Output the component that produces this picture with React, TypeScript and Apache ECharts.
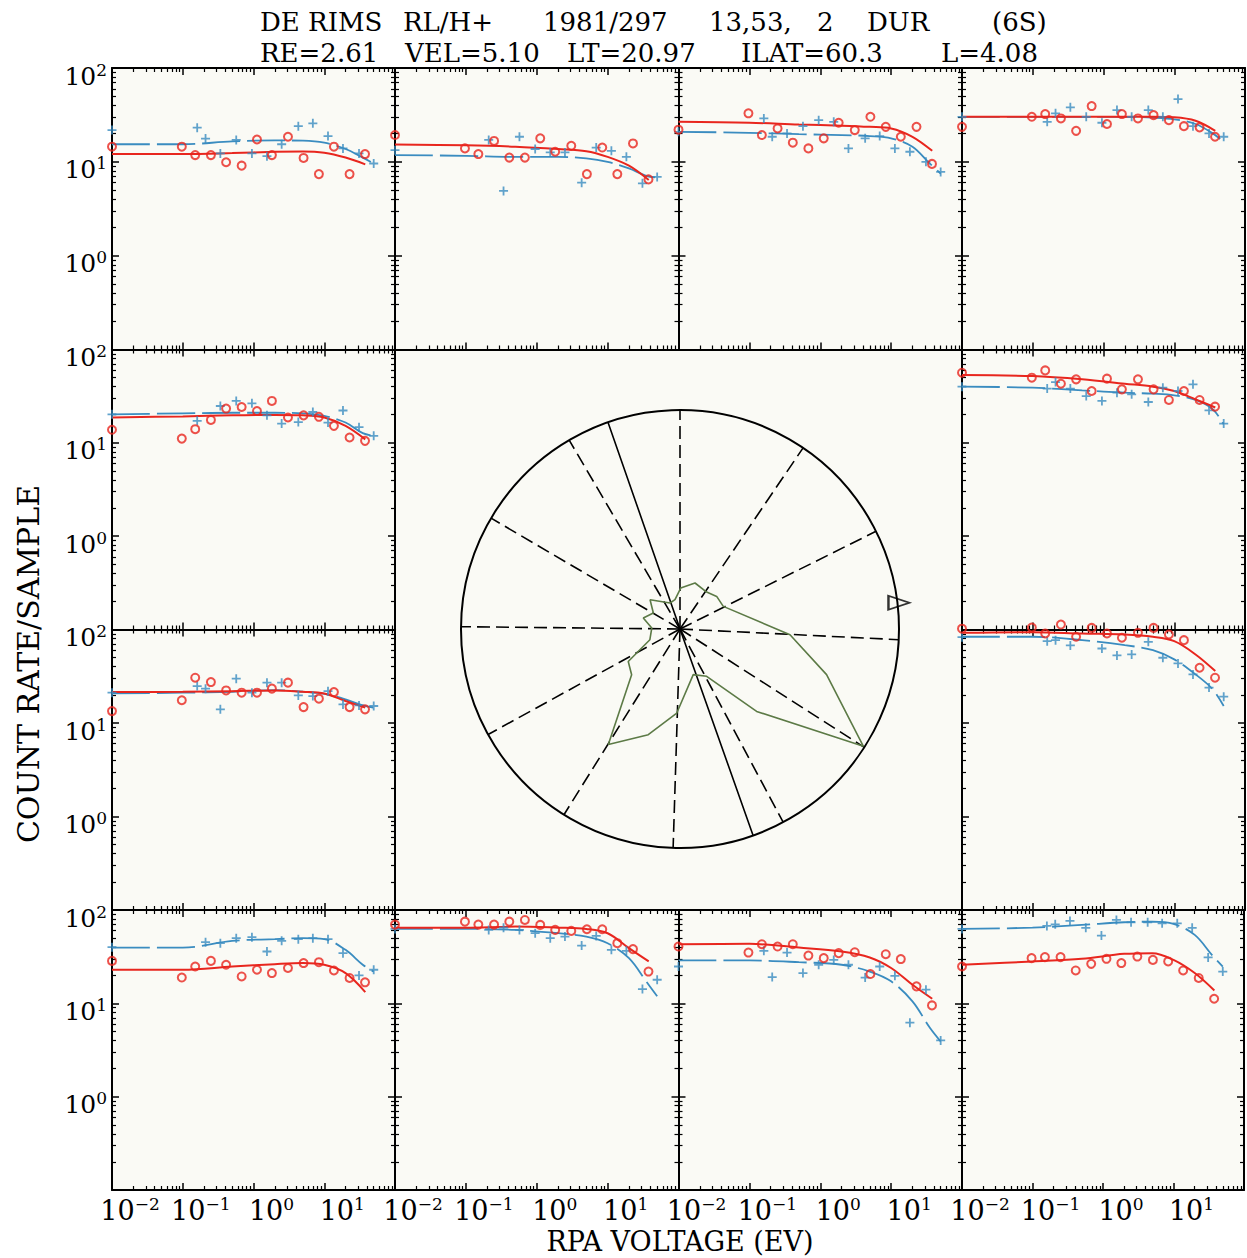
import React, { useEffect, useRef } from 'react';
import * as echarts from 'echarts';

// ---------------- data ----------------
// RPA voltage steps (eV) of the two sensors
const circleV = [0.01, 0.097, 0.15, 0.25, 0.41, 0.68, 1.12, 1.82, 3.07, 5.1, 8.4, 13.7, 22.8, 37.7];
const crossV = [0.01, 0.16, 0.21, 0.34, 0.57, 0.95, 1.55, 2.5, 4.3, 6.9, 11.3, 18.4, 31, 50];
// abscissae of the fitted curves
const fitRedV = [0.01, 0.1, 0.5, 2, 5, 10, 20, 38];
const fitBlueV = [0.01, 0.1, 0.5, 2, 5, 10, 20, 35, 50];

const p1Circles = [14.5, 14.5, 11.8, 11.8, 9.9, 9.1, 17.3, 11.8, 18.5, 11.0, 7.4, 14.5, 7.4, 12.1];
const p1Crosses = [21.8, 23.1, 17.7, 12.3, 17.1, 12.3, 11.5, 15.4, 24.0, 25.7, 18.8, 13.9, 12.3, 9.6];
const p1Red = [12.1, 12.1, 12.4, 12.8, 12.9, 12.5, 11.1, 9.4];
const p1Blue = [15.4, 15.4, 16.5, 16.9, 16.8, 16.0, 13.7, 11.1, 9.6];

const p2Circles = [19.3, 13.9, 12.1, 16.7, 11.1, 11.1, 17.8, 12.8, 14.8, 7.4, 14.2, 7.4, 15.7, 6.5];
const p2Crosses = [13.3, null, 17.1, 4.9, 18.5, 13.7, 12.6, 12.6, 6.0, 14.2, 13.1, 11.3, 5.9, 6.9];
const p2Red = [15.3, 15.0, 14.5, 13.7, 13.0, 11.3, 9.1, 6.4];
const p2Blue = [11.8, 11.6, 11.3, 11.3, 10.9, 10.0, 8.5, 7.1, 6.8];

const p3Circles = [22, 32.9, 19.3, 22.7, 16.0, 13.9, 17.8, 26.1, 21.8, 30.2, 23.6, 18.5, 23.6, 9.5];
const p3Crosses = [20.9, 29.0, 18.5, 20.1, 24.0, 27.8, 26.7, 13.9, 17.8, 18.8, 13.9, 12.8, 10.0, 7.8];
const p3Red = [26.7, 26.1, 25.0, 24.3, 23.6, 22.7, 18.5, 13.1];
const p3Blue = [20.9, 20.4, 19.7, 19.3, 18.8, 17.8, 14.5, 9.6, 7.5];

const p4Circles = [23.6, 30.2, 32.3, 29.0, 21.4, 39.3, 25.3, 32.3, 29.0, 31.5, 27.8, 24.0, 23.3, 18.5];
const p4Crosses = [30.2, 26.7, 32.9, 38.1, 30.2, 26.1, 35.6, 30.2, 35.6, 30.2, 46.7, 24.0, 20.1, 18.5];
const p4Red = [30.2, 30.2, 30.2, 30.2, 30.2, 29.8, 27.4, 21.4];
const p4Blue = [30.2, 30.2, 30.2, 30.2, 29.6, 28.4, 25.3, 20.1, 16.3];

const p5Circles = [13.8, 11.1, 14.0, 17.6, 23.3, 24.2, 21.9, 28.1, 18.7, 19.7, 19.0, 15.2, 11.4, 10.5];
const p5Crosses = [20.2, 17.2, null, 24.8, 28.1, 26.5, 19.7, 16.1, 16.7, 21.4, 16.5, 22.2, 14.7, 11.9];
const p5Red = [18.7, 19.2, 19.7, 19.9, 19.7, 18.7, 15.2, 10.9];
const p5Blue = [20.2, 20.7, 21.0, 21.0, 20.7, 19.4, 16.5, 12.7, 11.9];

const p6Circles = [56.4, 49.9, 59.7, 43.0, 47.9, 35.9, 48.7, 37.4, 47.9, 37.4, 28.8, 35.9, 28.8, 24.4];
const p6Crosses = [40.0, 38.1, 44.8, 38.1, 31.7, 28.1, 34.5, 33.1, 27.4, 39.0, 35.9, 42.3, 22.3, 16.1];
const p6Red = [53.2, 51.9, 47.9, 43.0, 40.0, 35.9, 29.2, 23.9];
const p6Blue = [40.0, 39.0, 36.5, 34.5, 33.6, 32.3, 28.8, 22.9, 15.8];

const p7Circles = [13.4, 17.5, 30.5, 27.4, 22.3, 21.1, 21.1, 23.3, 27.0, 14.8, 18.2, 21.4, 14.8, 14.0];
const p7Crosses = [21.1, 24.8, 23.3, 14.0, 29.8, 21.1, 27.0, 27.0, 19.7, 19.4, 21.9, 15.8, 15.4, 15.2];
const p7Red = [21.4, 21.6, 21.9, 22.3, 21.6, 20.7, 17.2, 14.6];
const p7Blue = [20.7, 21.1, 21.6, 22.5, 21.6, 20.5, 17.9, 15.4, 14.6];

const p8Circles = [102, 105, 90.6, 113, 83.6, 104, 90.6, 81.6, 92.2, 104, 88.4, 76.9, 39.0, 30.5];
const p8Crosses = [82.8, 75.0, 76.9, 67.5, null, 62.6, 52.8, 54.1, 73.9, 49.9, 43.4, 33.1, 23.9, 19.1];
const p8Red = [92.2, 93.7, 90.6, 88.4, 83.6, 75.0, 54.1, 35.9];
const p8Blue = [83.6, 83.6, 76.9, 68.0, 60.1, 47.9, 33.1, 22.9, 15.2];

const p9Circles = [28.5, 18.9, 24.8, 28.5, 25.9, 19.4, 22.9, 21.1, 23.9, 27.0, 27.6, 22.5, 18.7, 16.8];
const p9Crosses = [40, null, 45.2, 44.1, 49.9, 51.1, 35.9, 46.7, 48.7, 49.9, 48.7, 34.5, 19.9, 22.9];
const p9Red = [22.9, 22.9, 24.8, 26.3, 27.0, 25.9, 21.1, 13.2];
const p9Blue = [39.6, 39.6, 46.7, 48.7, 49.9, 48.7, 37.4, 25.9, 21.9];

const p10Circles = [69.8, 75.0, 69.8, 69.8, 75.0, 78.2, 69.2, 61.2, 59.7, 62.2, 62.2, 44.1, 38.1, 21.9];
const p10Crosses = [62.7, null, 61.2, 64.7, 61.2, 56.4, 49.9, 51.9, 41.6, 52.8, 37.4, 36.5, 14.2, 17.9];
const p10Red = [64.4, 64.7, 66.4, 64.7, 62.7, 56.4, 39.0, 28.1];
const p10Blue = [62.7, 62.7, 61.2, 56.4, 51.9, 44.1, 30.5, 17.2, 11.9];

const p11Circles = [40.6, 35.0, 43.0, 40.6, 43.0, 32.5, 30.5, 34.5, 35.3, 20.6, 33.6, 29.8, 15.2, 9.5];
const p11Crosses = [24.8, 36.5, 19.1, 35.0, 21.1, 25.9, 29.2, 25.9, 18.9, 24.8, 19.7, 6.2, 14.0, 4.0];
const p11Red = [43.0, 43.4, 39.6, 35.9, 31.0, 23.9, 15.8, 11.2];
const p11Blue = [28.8, 28.8, 27.6, 25.9, 21.9, 17.2, 10.5, 5.5, 3.9];

const p12Circles = [24.8, 30.5, 31.3, 31.3, 22.5, 26.5, 30.0, 27.0, 31.7, 29.2, 28.1, 22.5, 18.7, 11.2];
const p12Crosses = [62.7, 67.5, 70.3, 76.3, 64.4, 53.2, 78.2, 73.9, 73.9, 72.0, 72.0, 64.4, 31.0, 21.9];
const p12Red = [25.9, 28.1, 30.0, 33.9, 34.5, 29.2, 21.1, 13.7];
const p12Blue = [62.7, 64.7, 69.2, 73.9, 75.0, 70.9, 54.1, 33.1, 24.8];

// polar (look-direction) diagram: angles in degrees counter-clockwise from east, radius fraction
const dashedSpokeAngles = [26.5, 55.8, 90, 120.4, 149.6, 179.4, 208.8, 238, 268.2, 298.1, 327.3, 357.2];
const solidSpokeAngles = [109.2, 289.5];
const greenAngles = [27.6, 41.6, 54.2, 71.9, 89, 99.7, 111, 135.7, 149, 163.3, 178, 199.6, 212.1, 223.4, 238.2, 253.3, 267.8, 286.2, 299.4, 312.9, 327.4, 342.7, 357];
const greenRadii = [0.223, 0.224, 0.208, 0.221, 0.187, 0.136, 0.127, 0.191, 0.142, 0.175, 0.129, 0.146, 0.279, 0.304, 0.621, 0.504, 0.384, 0.217, 0.248, 0.514, 0.994, 0.701, 0.503];
const markerAngle = 6.85;
const markerRadius = 1.007;

// text
const titleWords1 = ['DE RIMS', 'RL/H+', '1981/297', '13,53,', '2', 'DUR', '(6S)'];
const titleWords2 = ['RE=2.61', 'VEL=5.10', 'LT=20.97', 'ILAT=60.3', 'L=4.08'];
const yTitle = 'COUNT RATE/SAMPLE';
const xTitle = 'RPA VOLTAGE (EV)';

// ---------------- layout / style ----------------
const RED = '#e8261e';
const BLUE = '#3a8cc0';
const GREEN = '#5c7a46';
const PANEL_BG = '#fafaf5';
const SERIF = '"DejaVu Serif", "Liberation Serif", serif';
const colX = [112, 395, 678.5, 962, 1245];
const rowY = [68, 349.5, 629.5, 910, 1190];
const titleX1 = [260, 403, 543, 709, 817, 867, 992];
const titleX2 = [260, 405, 567, 741, 941];
const CROSS = 'path://M4,0H6V4H10V6H6V10H4V6H0V4H4Z';

const panels = [
  { row: 0, col: 0, circles: p1Circles, crosses: p1Crosses, red: p1Red, blue: p1Blue },
  { row: 0, col: 1, circles: p2Circles, crosses: p2Crosses, red: p2Red, blue: p2Blue },
  { row: 0, col: 2, circles: p3Circles, crosses: p3Crosses, red: p3Red, blue: p3Blue },
  { row: 0, col: 3, circles: p4Circles, crosses: p4Crosses, red: p4Red, blue: p4Blue },
  { row: 1, col: 0, circles: p5Circles, crosses: p5Crosses, red: p5Red, blue: p5Blue },
  { row: 1, col: 3, circles: p6Circles, crosses: p6Crosses, red: p6Red, blue: p6Blue },
  { row: 2, col: 0, circles: p7Circles, crosses: p7Crosses, red: p7Red, blue: p7Blue },
  { row: 2, col: 3, circles: p8Circles, crosses: p8Crosses, red: p8Red, blue: p8Blue },
  { row: 3, col: 0, circles: p9Circles, crosses: p9Crosses, red: p9Red, blue: p9Blue },
  { row: 3, col: 1, circles: p10Circles, crosses: p10Crosses, red: p10Red, blue: p10Blue },
  { row: 3, col: 2, circles: p11Circles, crosses: p11Crosses, red: p11Red, blue: p11Blue },
  { row: 3, col: 3, circles: p12Circles, crosses: p12Crosses, red: p12Red, blue: p12Blue },
];

const xMinorTicks: number[] = [];
for (let n = -2; n <= 1; n++) for (let k = 2; k <= 9; k++) xMinorTicks.push(n + Math.log10(k));
const yMinorTicks: number[] = [];
for (let n = -1; n <= 1; n++) for (let k = 2; k <= 9; k++) yMinorTicks.push(n + Math.log10(k));

function pairs(xs: number[], ys: (number | null)[]) {
  const out: number[][] = [];
  xs.forEach((x, j) => {
    const y = ys[j];
    if (y !== null && y !== undefined) out.push([x, y]);
  });
  return out;
}

function sup(e: number) {
  return `{b|10}{s|${e < 0 ? '\u2212' + -e : e}}`;
}

function majorAxis(i: number, dim: 'x' | 'y', pos: string, showLabel: boolean) {
  const isX = dim === 'x';
  const label = showLabel
    ? isX
      ? {
          show: true,
          margin: 5,
          padding: [0, 0, 0, 36],
          color: '#000',
          fontFamily: SERIF,
          formatter: (v: number) => {
            const e = Math.round(Math.log10(v));
            return e >= 2 ? '' : sup(e);
          },
          rich: {
            b: { fontSize: 27, lineHeight: 30, fontFamily: SERIF, color: '#000' },
            s: { fontSize: 17, lineHeight: 15, verticalAlign: 'top', fontFamily: SERIF, color: '#000' },
          },
        }
      : {
          show: true,
          margin: 5,
          padding: [16, 0, 0, 0],
          color: '#000',
          fontFamily: SERIF,
          formatter: (v: number) => {
            const e = Math.round(Math.log10(v));
            return e <= -1 ? '' : sup(e);
          },
          rich: {
            b: { fontSize: 25, lineHeight: 30, fontFamily: SERIF, color: '#000' },
            s: { fontSize: 17, lineHeight: 17, verticalAlign: 'top', fontFamily: SERIF, color: '#000' },
          },
        }
    : { show: false };
  return {
    type: 'log',
    logBase: 10,
    gridIndex: i,
    position: pos,
    min: isX ? 0.01 : 0.1,
    max: 100,
    axisLine: { show: true, onZero: false, lineStyle: { color: '#000', width: 2 } },
    axisTick: { show: true, inside: true, length: 7, lineStyle: { color: '#000', width: 1.5 } },
    axisLabel: label,
    splitLine: { show: false },
    minorTick: { show: false },
    minorSplitLine: { show: false },
  };
}

function minorAxis(i: number, dim: 'x' | 'y', pos: string) {
  const isX = dim === 'x';
  return {
    type: 'value',
    gridIndex: i,
    position: pos,
    min: isX ? -2 : -1,
    max: 2,
    axisLine: { show: false, onZero: false },
    axisTick: {
      show: true,
      inside: true,
      length: 4,
      customValues: isX ? xMinorTicks : yMinorTicks,
      lineStyle: { color: '#000', width: 1.2 },
    },
    axisLabel: { show: false },
    splitLine: { show: false },
  };
}

function buildOption() {
  const grid: any[] = [];
  const xAxis: any[] = [];
  const yAxis: any[] = [];
  const series: any[] = [];

  panels.forEach((p, i) => {
    const left = colX[p.col];
    const top = rowY[p.row];
    grid.push({
      left,
      top,
      width: colX[p.col + 1] - left,
      height: rowY[p.row + 1] - top,
      show: true,
      backgroundColor: PANEL_BG,
      borderWidth: 0,
      containLabel: false,
    });
    xAxis.push(majorAxis(i, 'x', 'bottom', p.row === 3), majorAxis(i, 'x', 'top', false), minorAxis(i, 'x', 'bottom'), minorAxis(i, 'x', 'top'));
    yAxis.push(majorAxis(i, 'y', 'left', p.col === 0), majorAxis(i, 'y', 'right', false), minorAxis(i, 'y', 'left'), minorAxis(i, 'y', 'right'));
    const ax = { xAxisIndex: 4 * i, yAxisIndex: 4 * i };
    series.push(
      {
        type: 'line',
        ...ax,
        data: pairs(fitBlueV, p.blue),
        smooth: 0.35,
        symbol: 'none',
        silent: true,
        lineStyle: { color: BLUE, width: 1.8, type: [38, 7] },
        z: 3,
      },
      {
        type: 'line',
        ...ax,
        data: pairs(fitRedV, p.red),
        smooth: 0.35,
        symbol: 'none',
        silent: true,
        lineStyle: { color: RED, width: 2 },
        z: 3,
      },
      {
        type: 'scatter',
        ...ax,
        data: pairs(crossV, p.crosses),
        symbol: CROSS,
        symbolSize: 9,
        clip: false,
        silent: true,
        itemStyle: { color: BLUE },
        z: 4,
      },
      {
        type: 'scatter',
        ...ax,
        data: pairs(circleV, p.circles),
        symbol: 'circle',
        symbolSize: 8,
        clip: false,
        silent: true,
        itemStyle: { color: 'rgba(0,0,0,0)', borderColor: RED, borderWidth: 2 },
        z: 5,
      }
    );
  });

  // polar diagram
  dashedSpokeAngles.forEach((a) => {
    series.push({
      type: 'line',
      coordinateSystem: 'polar',
      polarIndex: 0,
      data: [[0, a], [1, a]],
      symbol: 'none',
      silent: true,
      lineStyle: { color: '#000', width: 1.6, type: [13, 6] },
    });
  });
  series.push({
    type: 'line',
    coordinateSystem: 'polar',
    polarIndex: 0,
    data: [[1, solidSpokeAngles[0]], [0, solidSpokeAngles[0]], [1, solidSpokeAngles[1]]],
    symbol: 'none',
    silent: true,
    lineStyle: { color: '#000', width: 1.6 },
  });
  const green = greenAngles.map((a, j) => [greenRadii[j], a]);
  green.push(green[0]);
  series.push({
    type: 'line',
    coordinateSystem: 'polar',
    polarIndex: 0,
    data: green,
    symbol: 'none',
    silent: true,
    lineStyle: { color: GREEN, width: 1.6 },
    z: 4,
  });
  series.push({
    type: 'scatter',
    coordinateSystem: 'polar',
    polarIndex: 0,
    data: [[markerRadius, markerAngle]],
    symbol: 'triangle',
    symbolSize: [14, 21],
    symbolRotate: -90,
    clip: false,
    silent: true,
    itemStyle: { color: 'rgba(0,0,0,0)', borderColor: '#000', borderWidth: 2 },
    z: 5,
  });

  const textStyle = (size: number) => `${size}px ${SERIF}`;
  const elements: any[] = [
    {
      type: 'rect',
      z: -1,
      shape: { x: colX[1], y: rowY[1], width: colX[3] - colX[1], height: rowY[3] - rowY[1] },
      style: { fill: PANEL_BG },
      silent: true,
    },
  ];
  titleWords1.forEach((t, j) =>
    elements.push({
      type: 'text',
      x: titleX1[j],
      y: 22,
      style: { text: t, font: textStyle(26), fill: '#000', textAlign: 'left', textVerticalAlign: 'middle', verticalAlign: 'middle' },
    })
  );
  titleWords2.forEach((t, j) =>
    elements.push({
      type: 'text',
      x: titleX2[j],
      y: 53,
      style: { text: t, font: textStyle(26), fill: '#000', textAlign: 'left', textVerticalAlign: 'middle', verticalAlign: 'middle' },
    })
  );
  elements.push({
    type: 'text',
    x: 28.5,
    y: 664,
    rotation: Math.PI / 2,
    style: { text: yTitle, font: textStyle(30), fill: '#000', textAlign: 'center', textVerticalAlign: 'middle', verticalAlign: 'middle' },
  });
  elements.push({
    type: 'text',
    x: 680,
    y: 1241,
    style: { text: xTitle, font: textStyle(27), fill: '#000', textAlign: 'center', textVerticalAlign: 'middle', verticalAlign: 'middle' },
  });

  return {
    animation: false,
    backgroundColor: '#ffffff',
    grid,
    xAxis,
    yAxis,
    polar: { center: [680, 629], radius: 219 },
    angleAxis: {
      type: 'value',
      min: 0,
      max: 360,
      startAngle: 0,
      clockwise: false,
      axisLine: { show: true, lineStyle: { color: '#000', width: 2 } },
      axisTick: { show: false },
      axisLabel: { show: false },
      splitLine: { show: false },
    },
    radiusAxis: {
      type: 'value',
      min: 0,
      max: 1,
      axisLine: { show: false },
      axisTick: { show: false },
      axisLabel: { show: false },
      splitLine: { show: false },
    },
    graphic: { elements },
    series,
  };
}

export default function App() {
  const ref = useRef<HTMLDivElement>(null);
  useEffect(() => {
    if (!ref.current) return;
    const chart = echarts.init(ref.current, null, { renderer: 'svg' });
    chart.setOption(buildOption() as any);
    return () => chart.dispose();
  }, []);
  return (
    <div
      ref={ref}
      style={{ position: 'fixed', left: 0, top: 0, width: 1247, height: 1258, background: '#fff' }}
    />
  );
}
